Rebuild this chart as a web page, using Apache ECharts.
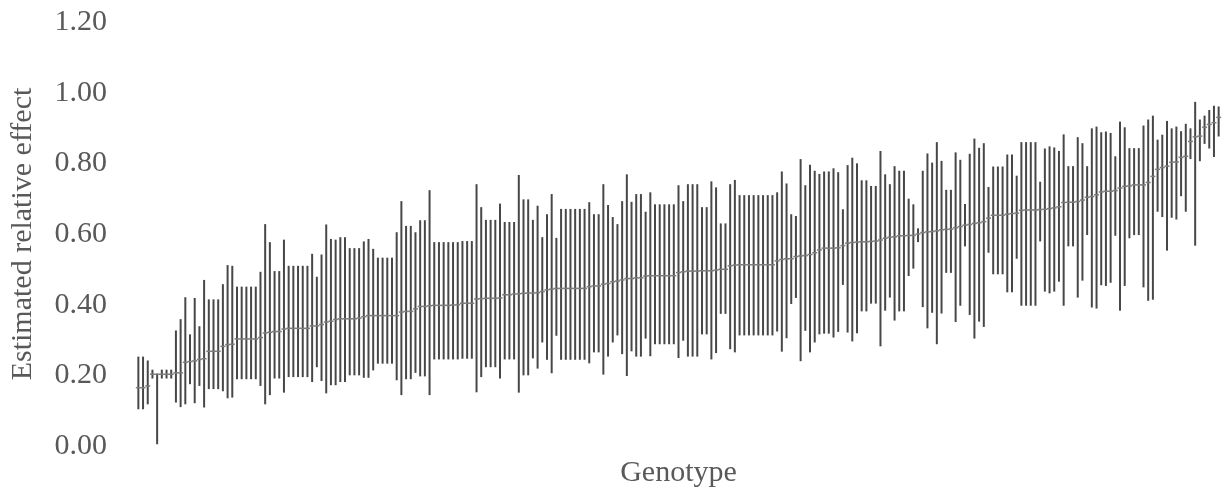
<!DOCTYPE html>
<html>
<head>
  <meta charset="utf-8">
  <title>Estimated relative effect by genotype</title>
  <style>
    body { margin: 0; background: #ffffff; }
    #chart { width: 1224px; height: 493px; }
  </style>
</head>
<body>
  <div id="chart"></div>
  <script src="https://cdn.jsdelivr.net/npm/echarts@6/dist/echarts.min.js"></script>
  <script>
    // values, genotypes sorted by estimate
    var upper = [
      0.253,0.253,0.242,0.216,0.205,0.216,0.216,0.216,0.327,0.359,
      0.421,0.316,0.419,0.339,0.470,0.415,0.415,0.415,0.458,0.512,
      0.510,0.451,0.451,0.451,0.451,0.451,0.493,0.628,0.577,0.495,
      0.495,0.584,0.510,0.510,0.510,0.510,0.510,0.544,0.479,0.542,
      0.627,0.586,0.584,0.591,0.591,0.560,0.560,0.560,0.579,0.586,
      0.558,0.533,0.533,0.533,0.533,0.605,0.693,0.623,0.623,0.605,
      0.639,0.639,0.724,0.577,0.577,0.577,0.577,0.577,0.577,0.580,
      0.580,0.580,0.741,0.676,0.640,0.640,0.640,0.686,0.634,0.634,
      0.634,0.767,0.698,0.698,0.640,0.680,0.591,0.656,0.713,0.589,
      0.671,0.671,0.671,0.671,0.671,0.671,0.690,0.656,0.656,0.741,
      0.682,0.648,0.628,0.693,0.769,0.691,0.713,0.713,0.663,0.718,
      0.684,0.684,0.684,0.684,0.684,0.738,0.693,0.741,0.741,0.741,
      0.676,0.676,0.749,0.732,0.630,0.630,0.741,0.753,0.710,0.710,
      0.710,0.710,0.710,0.710,0.710,0.710,0.718,0.777,0.743,0.656,
      0.651,0.812,0.738,0.796,0.779,0.770,0.777,0.777,0.786,0.775,
      0.670,0.795,0.816,0.800,0.752,0.752,0.736,0.736,0.835,0.769,
      0.741,0.792,0.779,0.779,0.700,0.684,0.616,0.779,0.828,0.802,
      0.860,0.807,0.725,0.725,0.831,0.810,0.685,0.827,0.870,0.844,
      0.857,0.733,0.791,0.791,0.791,0.825,0.825,0.765,0.860,0.860,
      0.860,0.860,0.748,0.842,0.848,0.845,0.835,0.882,0.792,0.792,
      0.874,0.857,0.792,0.899,0.904,0.888,0.890,0.886,0.820,0.918,
      0.902,0.843,0.843,0.843,0.907,0.924,0.935,0.867,0.881,0.920,
      0.899,0.904,0.891,0.912,0.899,0.974,0.924,0.935,0.951,0.963,0.961
    ];
    var lower = [
      0.104,0.104,0.118,0.191,0.005,0.191,0.191,0.191,0.123,0.110,
      0.118,0.175,0.121,0.170,0.109,0.161,0.161,0.161,0.155,0.135,
      0.137,0.189,0.189,0.189,0.189,0.189,0.170,0.118,0.144,0.191,
      0.191,0.151,0.195,0.195,0.195,0.195,0.195,0.181,0.223,0.184,
      0.149,0.172,0.172,0.181,0.181,0.200,0.200,0.200,0.193,0.193,
      0.214,0.233,0.233,0.233,0.233,0.186,0.144,0.189,0.189,0.207,
      0.197,0.197,0.144,0.245,0.245,0.245,0.245,0.245,0.245,0.247,
      0.247,0.247,0.152,0.195,0.223,0.223,0.223,0.191,0.245,0.245,
      0.245,0.151,0.200,0.200,0.248,0.219,0.293,0.244,0.206,0.312,
      0.244,0.244,0.244,0.244,0.244,0.244,0.234,0.265,0.265,0.202,
      0.253,0.293,0.313,0.260,0.198,0.268,0.253,0.253,0.304,0.254,
      0.288,0.288,0.288,0.288,0.288,0.249,0.298,0.253,0.253,0.253,
      0.316,0.316,0.245,0.263,0.374,0.374,0.274,0.265,0.313,0.313,
      0.313,0.313,0.313,0.313,0.313,0.313,0.324,0.267,0.305,0.402,
      0.419,0.240,0.326,0.265,0.293,0.316,0.318,0.318,0.307,0.323,
      0.456,0.321,0.296,0.319,0.381,0.381,0.403,0.403,0.282,0.383,
      0.420,0.355,0.381,0.381,0.481,0.502,0.577,0.393,0.333,0.377,
      0.288,0.375,0.490,0.490,0.351,0.397,0.565,0.371,0.304,0.352,
      0.337,0.547,0.486,0.486,0.486,0.435,0.435,0.530,0.397,0.397,
      0.397,0.397,0.579,0.437,0.432,0.437,0.465,0.397,0.565,0.565,
      0.420,0.468,0.597,0.392,0.389,0.455,0.453,0.462,0.595,0.383,
      0.453,0.588,0.597,0.597,0.449,0.411,0.414,0.663,0.648,0.553,
      0.646,0.641,0.707,0.663,0.812,0.567,0.806,0.855,0.842,0.818,0.876
    ];
    var estimate = [
      0.165,0.165,0.170,0.203,0.203,0.203,0.203,0.203,0.207,0.207,
      0.237,0.239,0.241,0.245,0.247,0.268,0.268,0.268,0.282,0.287,
      0.288,0.303,0.303,0.303,0.303,0.303,0.307,0.320,0.322,0.324,
      0.324,0.331,0.333,0.333,0.333,0.333,0.333,0.340,0.340,0.344,
      0.351,0.353,0.358,0.360,0.360,0.360,0.360,0.362,0.366,0.369,
      0.369,0.369,0.369,0.369,0.369,0.369,0.379,0.381,0.381,0.388,
      0.395,0.395,0.397,0.398,0.398,0.398,0.398,0.399,0.400,0.404,
      0.404,0.404,0.416,0.417,0.418,0.418,0.418,0.419,0.428,0.428,
      0.430,0.431,0.432,0.433,0.433,0.434,0.437,0.442,0.444,0.446,
      0.446,0.446,0.446,0.446,0.446,0.446,0.451,0.453,0.453,0.458,
      0.460,0.465,0.467,0.470,0.474,0.474,0.476,0.476,0.481,0.482,
      0.482,0.482,0.482,0.482,0.482,0.491,0.493,0.495,0.495,0.495,
      0.496,0.496,0.496,0.498,0.500,0.500,0.510,0.512,0.513,0.513,
      0.513,0.513,0.513,0.513,0.513,0.513,0.524,0.528,0.530,0.530,
      0.536,0.538,0.539,0.542,0.547,0.555,0.560,0.560,0.560,0.561,
      0.567,0.574,0.576,0.577,0.578,0.578,0.579,0.580,0.583,0.588,
      0.591,0.592,0.595,0.595,0.596,0.596,0.600,0.604,0.606,0.607,
      0.609,0.612,0.613,0.614,0.618,0.621,0.625,0.627,0.630,0.632,
      0.635,0.645,0.653,0.653,0.653,0.656,0.658,0.659,0.667,0.668,
      0.668,0.668,0.669,0.670,0.672,0.674,0.677,0.689,0.690,0.690,
      0.692,0.696,0.704,0.706,0.711,0.719,0.721,0.721,0.723,0.730,
      0.735,0.736,0.739,0.739,0.739,0.746,0.763,0.783,0.788,0.792,
      0.803,0.804,0.817,0.820,0.862,0.875,0.877,0.902,0.910,0.915,0.930
    ];
    var yTicks = [0, 0.2, 0.4, 0.6, 0.8, 1.0, 1.2];

    // genotypes have no readable names, so they are just numbered
    var genotypes = estimate.map(function (v, i) { return 'G' + (i + 1); });

    var rows = estimate.map(function (v, i) {
      return [i, lower[i], upper[i], v];
    });

    var font = 'Liberation Serif';

    function renderBar(params, api) {
      var i = api.value(0);
      var lo = api.coord([i, api.value(1)]);
      var hi = api.coord([i, api.value(2)]);
      var mid = api.coord([i, api.value(3)]);
      return {
        type: 'group',
        children: [{
          type: 'line',
          shape: { x1: hi[0], y1: hi[1], x2: lo[0], y2: lo[1] },
          style: { stroke: '#474747', lineWidth: 2 }
        }, {
          type: 'line',
          shape: { x1: mid[0] - 2.5, y1: mid[1], x2: mid[0] + 2.5, y2: mid[1] },
          style: { stroke: '#7c7c7c', lineWidth: 1.5 }
        }]
      };
    }

    var chart = echarts.init(document.getElementById('chart'));
    chart.setOption({
      animation: false,
      backgroundColor: '#ffffff',
      grid: { left: 132, right: 3, top: 22, bottom: 41 },
      xAxis: {
        type: 'category',
        data: genotypes,
        name: 'Genotype',
        nameLocation: 'middle',
        nameGap: 12,
        nameTextStyle: { fontFamily: font, fontSize: 30, color: '#595959' },
        axisLine: { show: false },
        axisTick: { show: false },
        axisLabel: { show: false },
        splitLine: { show: false }
      },
      yAxis: {
        type: 'value',
        min: yTicks[0],
        max: yTicks[yTicks.length - 1],
        interval: 0.2,
        name: 'Estimated relative effect',
        nameLocation: 'middle',
        nameGap: 98,
        nameTextStyle: { fontFamily: font, fontSize: 30, color: '#595959' },
        axisLine: { show: false },
        axisTick: { show: false },
        splitLine: { show: false },
        axisLabel: {
          fontFamily: font,
          fontSize: 30,
          color: '#595959',
          margin: 29,
          formatter: function (v) { return v.toFixed(2); }
        }
      },
      series: [{
        type: 'custom',
        renderItem: renderBar,
        encode: { x: 0, y: [1, 2, 3] },
        data: rows
      }]
    });
  </script>
</body>
</html>
